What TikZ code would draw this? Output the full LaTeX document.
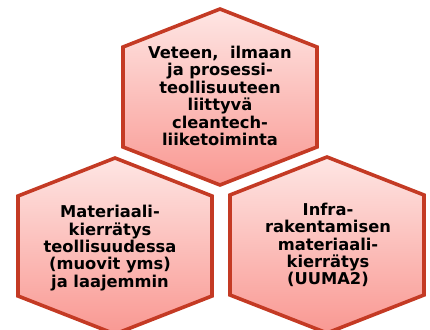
\documentclass[tikz,border=0pt]{standalone}
\usepackage{fontspec}
\setmainfont{DejaVu Sans}
\definecolor{hexborder}{RGB}{196,58,36}
\definecolor{hextop}{RGB}{254,230,228}
\definecolor{hexbot}{RGB}{249,152,146}
\begin{document}
\begin{tikzpicture}[x=1pt,y=-1pt,
  hexbox/.style={draw=hexborder, line width=3.6pt, line join=miter, top color=hextop, bottom color=hexbot},
  hextext/.style={align=center, font=\fontsize{16.3}{17.4}\selectfont\bfseries, text=black, inner sep=0pt}]
\useasboundingbox (0,0) rectangle (430,329);
% top hexagon
\path[hexbox] (220,9) -- (317,47) -- (317,147) -- (220,185) -- (123,147) -- (123,47) -- cycle;
% bottom-left hexagon
\path[hexbox] (115,158) -- (212,196) -- (212,296) -- (115,334) -- (18,296) -- (18,196) -- cycle;
% bottom-right hexagon
\path[hexbox] (327,157) -- (424,195) -- (424,295) -- (327,333) -- (230,295) -- (230,195) -- cycle;
\node[hextext] (t) at (220,96) {Veteen,~ ilmaan\\ja prosessi-\\teollisuuteen\\liittyvä\\cleantech-\\liiketoiminta};
\node[hextext] (bl) at (110,248) {Materiaali-\\kierrätys\\teollisuudessa\\(muovit yms)\\ja laajemmin};
\node[hextext] (br) at (328,245) {Infra-\\rakentamisen\\materiaali-\\kierrätys\\(UUMA2)};
\end{tikzpicture}
\end{document}
